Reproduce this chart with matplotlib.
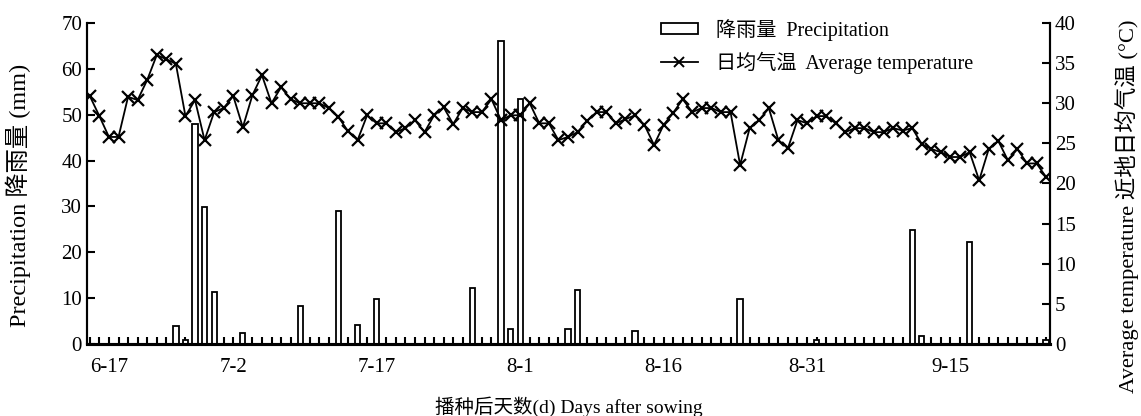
import matplotlib
matplotlib.use("Agg")
import matplotlib.pyplot as plt
from matplotlib.lines import Line2D
from matplotlib.patches import Patch

FONT = ["Liberation Serif", "Noto Sans CJK SC"]
plt.rcParams["font.family"] = FONT

# days after sowing (0 = 6-17)
days = list(range(101))
tick_days = [0, 15, 30, 45, 60, 75, 90]
tick_labels = ["6-17", "7-2", "7-17", "8-1", "8-16", "8-31", "9-15"]

temperature = [
    30.9, 28.4, 25.8, 25.8, 30.8, 30.4, 32.9, 36.0, 35.5, 34.9,
    28.4, 30.4, 25.4, 28.9, 29.4, 30.9, 27.0, 31.0, 33.5, 30.0,
    32.0, 30.5, 30.0, 30.0, 30.0, 29.4, 28.3, 26.5, 25.4, 28.5,
    27.5, 27.5, 26.4, 26.9, 27.9, 26.4, 28.5, 29.5, 27.4, 29.4,
    28.9, 28.9, 30.5, 27.9, 28.5, 28.5, 30.0, 27.5, 27.5, 25.4,
    25.8, 26.4, 27.8, 28.9, 28.9, 27.5, 28.0, 28.5, 27.3, 24.8,
    27.3, 28.8, 30.5, 28.9, 29.4, 29.4, 28.9, 28.9, 22.3, 26.9,
    27.9, 29.4, 25.4, 24.4, 27.9, 27.5, 28.4, 28.4, 27.5, 26.4,
    26.9, 26.9, 26.4, 26.4, 26.9, 26.6, 26.9, 24.9, 24.3, 23.9,
    23.3, 23.3, 23.9, 20.4, 24.3, 25.3, 22.9, 24.3, 22.5, 22.5,
    20.8,
]

rain_days = [9, 10, 11, 12, 13, 16, 22, 26, 28, 30, 40, 43, 44, 45,
             50, 51, 57, 68, 76, 86, 87, 92, 100]
rain_mm = [4.0, 0.8, 48.0, 29.8, 11.3, 2.4, 8.3, 29.0, 4.1, 9.9, 12.2, 66.0, 3.2, 53.4,
           3.2, 11.7, 2.8, 9.8, 0.8, 24.8, 1.7, 22.2, 0.8]

W, H = 1141, 416
fig = plt.figure(figsize=(W / 100, H / 100), dpi=100)
ax = fig.add_axes([0.0762, 0.1731, 0.8440, 0.7716])
ax2 = ax.twinx()

ax.bar(rain_days, rain_mm, width=0.55, facecolor="white", edgecolor="black",
       linewidth=1.3, zorder=2)
ax2.plot(days, temperature, color="black", linewidth=1.3, marker="x",
         markersize=9, markeredgewidth=1.6, zorder=3)

ax.set_xlim(-0.3, 100.4)
ax.set_ylim(0, 70)
ax2.set_ylim(0, 40)
ax.set_yticks(range(0, 71, 10))
ax2.set_yticks(range(0, 41, 5))
ax.set_xticks(tick_days)
ax.set_xticklabels(tick_labels)
ax.set_xticks(days, minor=True)

for a in (ax, ax2):
    a.spines["top"].set_visible(False)
    a.spines["left"].set_linewidth(1.5)
    a.spines["right"].set_linewidth(1.5)
    a.spines["bottom"].set_linewidth(2.2)
ax.tick_params(axis="x", which="both", direction="in", length=5, width=1.5,
               labelsize=15, pad=10)
ax.tick_params(axis="y", direction="in", length=6, width=1.5, labelsize=15)
ax2.tick_params(axis="y", direction="in", length=6, width=1.5, labelsize=15)
ax.get_xticklabels()[0].set_horizontalalignment("left")

ax.set_xlabel("播种后天数(d) Days after sowing", fontsize=14, labelpad=14)
# axis titles placed by hand to match the reference
fig.text(18 / W, 1 - 195 / H, "Precipitation 降雨量 (mm)", fontsize=17.5,
         rotation=90, ha="center", va="center")
fig.text(1127 / W, 1 - 206 / H, "Average temperature 近地日均气温 (°C)",
         fontsize=16.2, rotation=90, ha="center", va="center")

handles = [
    Patch(facecolor="white", edgecolor="black", linewidth=1.3),
    Line2D([], [], color="black", linewidth=1.3, marker="x", markersize=7,
           markeredgewidth=1.4),
]
labels = ["降雨量  Precipitation", "日均气温  Average temperature"]
leg = ax2.legend(handles, labels, loc="upper left", bbox_to_anchor=(0.577, 1.07),
                 frameon=False, fontsize=14.5, handlelength=1.85, handleheight=0.5,
                 labelspacing=0.55, handletextpad=0.9)

fig.savefig("out.png", dpi=100)
